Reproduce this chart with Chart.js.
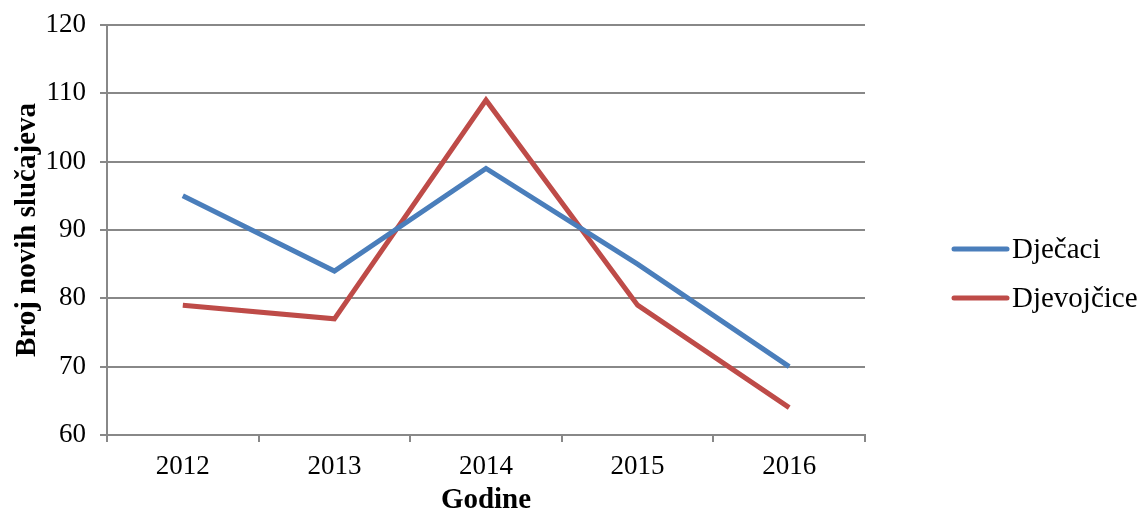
<!DOCTYPE html>
<html>
<head>
<meta charset="utf-8">
<script src="https://cdn.jsdelivr.net/npm/chart.js@4.4.0/dist/chart.umd.min.js"></script>
<style>
  html, body { margin: 0; padding: 0; background: #fff; }
  #wrap { width: 1143px; height: 512px; }
</style>
</head>
<body>
<div id="wrap"><canvas id="chartLinea" width="1143" height="512"></canvas></div>
<script>
  const godine      = ['2012', '2013', '2014', '2015', '2016'];
  const djecaci     = [95, 84, 99, 85, 70];
  const djevojcice  = [79, 77, 109, 79, 64];
  const yTicks      = [60, 70, 80, 90, 100, 110, 120];

  const blue = '#4a7ebb';
  const red  = '#be4b48';
  const grid = '#888888';
  const font = "'Liberation Serif', 'Times New Roman', serif";

  // legend on the right, drawn from the datasets
  const sideLegend = {
      id: 'sideLegend',
      afterDraw(chart) {
          const ctx = chart.ctx;
          const rows = [249, 298];
          ctx.save();
          chart.data.datasets.forEach((ds, i) => {
              const y = rows[i];
              ctx.strokeStyle = ds.borderColor;
              ctx.lineWidth = 5;
              ctx.lineCap = 'round';
              ctx.beginPath();
              ctx.moveTo(954, y);
              ctx.lineTo(1007, y);
              ctx.stroke();
              ctx.fillStyle = '#000';
              ctx.font = '29px ' + font;
              ctx.textBaseline = 'middle';
              ctx.fillText(ds.label, 1012, y + 1);
          });
          ctx.restore();
      }
  };

  new Chart(document.getElementById('chartLinea'), {
      type: 'line',
      data: {
          labels: godine,
          datasets: [
              { label: 'Dječaci', data: djecaci, borderColor: blue, borderWidth: 5,
                pointRadius: 0, tension: 0 },
              { label: 'Djevojčice', data: djevojcice, borderColor: red, borderWidth: 5,
                pointRadius: 0, tension: 0 }
          ]
      },
      options: {
          responsive: false,
          animation: false,
          layout: { padding: { top: 0, right: 278, bottom: 0, left: 0 } },
          plugins: { legend: { display: false }, tooltip: { enabled: false } },
          scales: {
              x: {
                  offset: true,
                  grid: { offset: true, drawOnChartArea: false, color: grid, lineWidth: 2, tickLength: 7 },
                  border: { color: grid, width: 2 },
                  ticks: { color: '#000', font: { family: font, size: 27 }, padding: 9, maxRotation: 0 },
                  title: { display: true, text: 'Godine', color: '#000',
                           font: { family: font, size: 29, weight: 'bold', lineHeight: 0.8 },
                           padding: { top: 0, bottom: 0 } },
                  afterFit(s) { s.height = 77; }
              },
              y: {
                  min: 60, max: 120,
                  afterBuildTicks(s) { s.ticks = yTicks.map(v => ({ value: v })); },
                  grid: { color: grid, lineWidth: 2, tickLength: 7 },
                  border: { color: grid, width: 2 },
                  ticks: { color: '#000', font: { family: font, size: 27, lineHeight: 0.9 }, padding: 14 },
                  title: { display: true, text: 'Broj novih slučajeva', color: '#000',
                           font: { family: font, size: 29, weight: 'bold' }, padding: { top: 10, bottom: 0 } },
                  afterFit(s) { s.width = 107; s.paddingTop = 25; s.paddingBottom = 0; }
              }
          }
      },
      plugins: [sideLegend]
  });
</script>
</body>
</html>
